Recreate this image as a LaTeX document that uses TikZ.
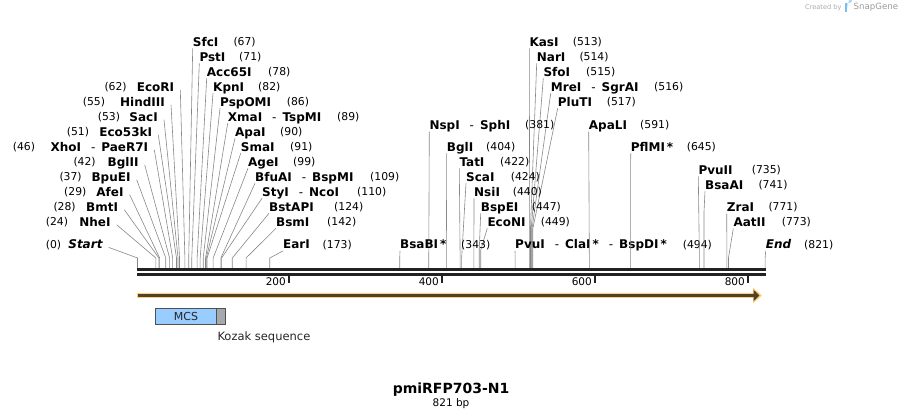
\documentclass[tikz,border=0pt]{standalone}
\usepackage{fontspec}
\setmainfont{DejaVu Sans}
\usetikzlibrary{arrows.meta}
\definecolor{conc}{RGB}{135,135,135}
\definecolor{seqc}{RGB}{34,34,34}
\definecolor{bandc}{RGB}{255,206,120}
\definecolor{darkc}{RGB}{80,66,42}
\definecolor{mcsc}{RGB}{153,204,255}
\definecolor{kozc}{RGB}{165,169,173}
\definecolor{boxc}{RGB}{80,80,80}
\definecolor{sgc}{RGB}{170,170,170}
\definecolor{logoc}{RGB}{120,190,240}
\newcommand\dsh{\hspace{10pt}{\mdseries-}\hspace{6pt}}
% left-aligned label: id, x, y, name, numx, bp, bend y
\newcommand\labL[7]{%
  \node[nm,anchor=west] (#1) at (#2,#3) {#4};
  \node[nb,anchor=west] (#1n) at (#5,#3) {(#6)};
  \coordinate (#1s) at ({137.5+0.7645*#6},#7);
  \coordinate (#1b) at ({137.5+0.7645*#6},268.3);
  \draw[con] ([yshift=-2pt]#1.south west) -- (#1s) -- (#1b);
}
% right-aligned label: id, xright, y, name, numx, bp
\newcommand\labR[6]{%
  \node[nm,anchor=east] (#1) at (#2,#3) {#4};
  \node[nb,anchor=west] (#1n) at (#5,#3) {(#6)};
  \coordinate (#1s) at ({137.5+0.7645*#6},258);
  \coordinate (#1b) at ({137.5+0.7645*#6},268.3);
  \draw[con] ([xshift=6pt,yshift=1.5pt]#1.south east) -- (#1s) -- (#1b);
}
\begin{document}
\begin{tikzpicture}[x=1pt,y=-1pt,
  nm/.style={inner sep=0pt,font=\fontsize{12}{14}\selectfont\bfseries,text height=8.75pt,text depth=0pt},
  nb/.style={inner sep=0pt,font=\fontsize{10.8}{13}\selectfont,text height=7.9pt,text depth=0pt},
  tk/.style={inner sep=0pt,font=\fontsize{10.5}{12}\selectfont,text height=7.6pt,text depth=0pt},
  con/.style={draw=conc,line width=0.6pt},
  tick/.style={draw=seqc,line width=1.8pt},
]
\useasboundingbox (0,0) rectangle (903,419);

% left cluster, right-aligned
\labR{ecori}{174.3}{86.7}{EcoRI}{104.3}{62}
\labR{hind}{165}{101.7}{HindIII}{82.7}{55}
\labR{sac}{158}{116.7}{SacI}{97.7}{53}
\labR{ecofs}{152.3}{131.7}{Eco53kI}{66.7}{51}
\labR{xho}{148.3}{146.7}{XhoI\dsh PaeR7I}{12.7}{46}
\labR{bgltwo}{138.7}{161.7}{BglII}{73.3}{42}
\labR{bpue}{130.7}{176.7}{BpuEI}{59.3}{37}
\labR{afe}{123.7}{191.7}{AfeI}{64}{29}
\labR{bmt}{118.3}{206.7}{BmtI}{53.3}{28}
\labR{nhe}{110.7}{221.7}{NheI}{45.7}{24}
\labR{start}{102.7}{244.3}{\itshape Start}{45.7}{0}

% left cluster, left-aligned
\labL{sfc}{192.7}{41.7}{SfcI}{233.3}{67}{258}
\labL{pst}{199.3}{56.7}{PstI}{239}{71}{258}
\labL{acc}{206.7}{71.7}{Acc65I}{268}{78}{258}
\labL{kpn}{213}{86.7}{KpnI}{258}{82}{258}
\labL{psp}{220}{101.7}{PspOMI}{286.7}{86}{258}
\labL{xma}{227.7}{116.7}{XmaI\dsh TspMI}{337}{89}{258}
\labL{apa}{235}{131.7}{ApaI}{280}{90}{258}
\labL{sma}{240.7}{146.7}{SmaI}{290}{91}{258}
\labL{age}{248}{161.7}{AgeI}{293}{99}{258}
\labL{bfu}{255}{176.7}{BfuAI\dsh BspMI}{370}{109}{258}
\labL{sty}{262}{191.7}{StyI\dsh NcoI}{357}{110}{258}
\labL{bstap}{269}{206.7}{BstAPI}{334}{124}{258}
\labL{bsm}{276}{221.7}{BsmI}{327}{142}{258}
\labL{ear}{283}{244.3}{EarI}{322.5}{173}{258}

% middle
\labL{kas}{529.3}{41.7}{KasI}{572.7}{513}{229}
\labL{nar}{536.7}{56.7}{NarI}{579.3}{514}{229}
\labL{sfo}{543.3}{71.7}{SfoI}{586}{515}{229}
\labL{mre}{550.7}{86.7}{MreI\dsh SgrAI}{654}{516}{229}
\labL{plu}{557.7}{101.7}{PluTI}{606.7}{517}{229}
\labL{nsp}{429.3}{125}{NspI\dsh SphI}{525}{381}{258}
\labL{bglone}{446.7}{146.7}{BglI}{486}{404}{258}
\labL{tat}{459.3}{161.7}{TatI}{500}{422}{258}
\labL{sca}{466}{176.7}{ScaI}{510.7}{424}{258}
\labL{nsi}{474}{191.7}{NsiI}{512.7}{440}{258}
\labL{bspe}{480.7}{206.7}{BspEI}{531.7}{447}{250}
\labL{econ}{487.3}{221.7}{EcoNI}{540.7}{449}{250}
\labL{bsab}{400}{244.3}{BsaBI\,*}{461}{343}{258}
\labL{pvu}{515}{244.3}{PvuI\dsh ClaI\,*\dsh BspDI\,*}{682.7}{494}{258}
\labL{apal}{588.7}{125}{ApaLI}{640}{591}{258}
\labL{pfl}{630.7}{146.7}{PflMI\,*}{686.7}{645}{258}
\labL{pvutwo}{698.3}{169.7}{PvuII}{751.7}{735}{258}
\labL{bsaa}{705}{184.7}{BsaAI}{758.3}{741}{212}
\labL{zra}{726.7}{207}{ZraI}{768.3}{771}{258}
\labL{aat}{733.3}{222}{AatII}{781.7}{773}{258}
\labL{endl}{765.7}{244.3}{\itshape End}{804}{821}{258}

% sequence
\coordinate (seqa) at (137,269.7);
\coordinate (seqb) at (766,269.7);
\coordinate (seqc) at (137,274.6);
\coordinate (seqd) at (766,274.6);
\draw[draw=seqc,line width=2.8pt] (seqa) -- (seqb);
\draw[draw=seqc,line width=2.8pt] (seqc) -- (seqd);

% ticks
\draw[tick] (289.3,275.5) -- (289.3,283.5);
\draw[tick] (442.2,275.5) -- (442.2,283.5);
\draw[tick] (595.1,275.5) -- (595.1,283.5);
\draw[tick] (747.9,275.5) -- (747.9,283.5);
\node[tk,anchor=east] (ttwo) at (286,282) {200};
\node[tk,anchor=east] (tfour) at (439,282) {400};
\node[tk,anchor=east] (tsix) at (592,282) {600};
\node[tk,anchor=east] (teight) at (745,282) {800};

% ORF arrow
\coordinate (orfa) at (136.7,295.5);
\coordinate (orfb) at (762,295.5);
\coordinate (orfc) at (137.5,295.5);
\coordinate (orfd) at (759.5,295.5);
\draw[draw=bandc,line width=5.6pt,-{Triangle[length=9pt,width=15pt]},color=bandc] (orfa) -- (orfb);
\draw[draw=darkc,line width=2.2pt,-{Triangle[length=6pt,width=11pt]},color=darkc] (orfc) -- (orfd);

% features
\node[draw=boxc,fill=mcsc,line width=0.9pt,minimum width=61.4pt,minimum height=16pt,inner sep=0pt,
      font=\fontsize{11}{13}\selectfont,text=black!85] (mcs) at (186,316.3) {MCS};
\node[draw=boxc,fill=kozc,line width=0.9pt,minimum width=8.6pt,minimum height=16pt,inner sep=0pt] (kozak) at (221,316.3) {};
\node[inner sep=0pt,font=\fontsize{11.5}{13}\selectfont,text=black!85,anchor=west] (kozakl) at (217.3,337.7) {Kozak sequence};

% title
\node[inner sep=0pt,font=\fontsize{14}{16}\selectfont\bfseries,text height=10.2pt,text depth=0pt] (title) at (451,388.7) {pmiRFP703-N1};
\node[inner sep=0pt,font=\fontsize{10.5}{12}\selectfont,text height=7.6pt,text depth=0pt] (bp) at (451,403) {821 bp};

% created by
\node[inner sep=0pt,font=\fontsize{6.6}{8}\selectfont,text=sgc,anchor=west] (cby) at (805,7.5) {Created by};
\fill[logoc] (844.5,3) rectangle (847.3,12.5);
\fill[logoc!60] (847.3,3) -- (849.5,3) arc[start angle=90,end angle=-90,radius=2.6] -- (847.3,8.2) -- cycle;
\node[inner sep=0pt,font=\fontsize{8.6}{10}\selectfont,text=sgc!90!black,anchor=west] (sg) at (853.5,7.5) {SnapGene};
\end{tikzpicture}
\end{document}
